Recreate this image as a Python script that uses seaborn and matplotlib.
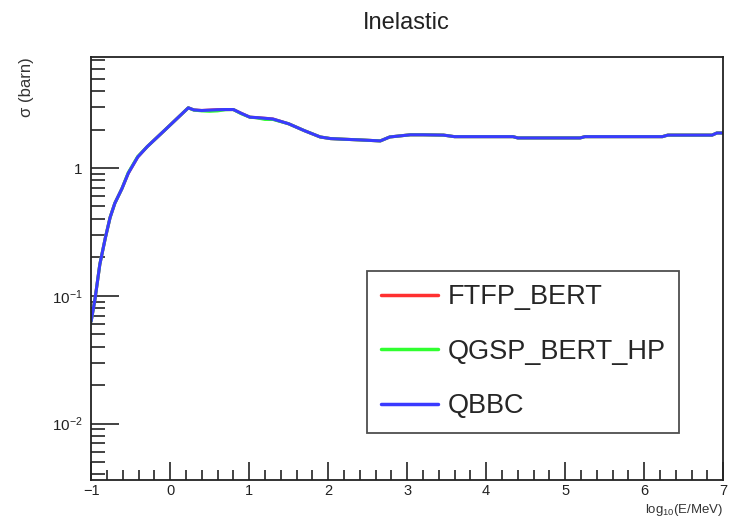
import numpy as np
import pandas as pd
import matplotlib
matplotlib.use("Agg")
import matplotlib.pyplot as plt
import matplotlib.ticker as mticker
import seaborn as sns

# 数据 (log10(E/MeV), 截面 barn)
log_e = [-1.0, -0.95, -0.89, -0.82, -0.76, -0.70, -0.61, -0.53, -0.41, -0.29, -0.06,
         0.23, 0.30, 0.40, 0.50, 0.60, 0.70, 0.80, 0.90, 1.01, 1.10, 1.20, 1.30,
         1.50, 1.70, 1.90, 2.03, 2.20, 2.40, 2.66, 2.78, 3.04, 3.20, 3.46, 3.60,
         4.00, 4.34, 4.40, 4.80, 5.19, 5.25, 5.80, 6.23, 6.30, 6.86, 6.92, 7.0]
sigma_qbbc = [0.063, 0.095, 0.176, 0.284, 0.41, 0.53, 0.69, 0.91, 1.22, 1.47, 2.0,
              2.96, 2.85, 2.82, 2.84, 2.86, 2.87, 2.87, 2.68, 2.5, 2.48, 2.45, 2.42,
              2.22, 1.96, 1.75, 1.70, 1.68, 1.66, 1.63, 1.75, 1.82, 1.82, 1.81, 1.76,
              1.76, 1.76, 1.72, 1.72, 1.72, 1.76, 1.76, 1.76, 1.81, 1.81, 1.88, 1.88]
sigma_ftfp = list(sigma_qbbc)
sigma_qgsp = [0.063, 0.095, 0.176, 0.284, 0.41, 0.53, 0.69, 0.92, 1.23, 1.47, 2.0,
              2.96, 2.84, 2.80, 2.78, 2.80, 2.86, 2.87, 2.66, 2.5, 2.47, 2.40, 2.40,
              2.22, 1.96, 1.75, 1.70, 1.68, 1.66, 1.63, 1.75, 1.82, 1.82, 1.81, 1.76,
              1.76, 1.76, 1.72, 1.72, 1.72, 1.76, 1.76, 1.76, 1.81, 1.81, 1.88, 1.88]

series_names = ["FTFP_BERT", "QGSP_BERT_HP", "QBBC"]
series_colors = ["#ff3030", "#30ff30", "#3a3aff"]
y_ticks = [0.01, 0.1, 1]
y_tick_labels = [r"$10^{-2}$", r"$10^{-1}$", "1"]

df = pd.concat([
    pd.DataFrame({"x": log_e, "y": s, "list": n})
    for n, s in zip(series_names, [sigma_ftfp, sigma_qgsp, sigma_qbbc])
])

sns.set_style("ticks")
plt.rcParams["font.family"] = ["Liberation Sans", "DejaVu Sans"]
plt.rcParams["mathtext.fontset"] = "custom"
plt.rcParams["mathtext.rm"] = "Liberation Sans"
plt.rcParams["mathtext.it"] = "Liberation Sans"

fig = plt.figure(figsize=(7.29, 5.18), dpi=100)
ax = fig.add_axes([0.125, 0.073, 0.867, 0.817])

sns.lineplot(data=df, x="x", y="y", hue="list", hue_order=series_names,
             palette=series_colors, linewidth=2.2, ax=ax, legend=False,
             estimator=None, sort=False)

ax.set_yscale("log")
ax.set_xlim(-1, 7)
ax.set_ylim(0.0036, 7.4)

# 刻度（ROOT 风格：朝内）
ax.xaxis.set_major_locator(mticker.MultipleLocator(1))
ax.xaxis.set_minor_locator(mticker.MultipleLocator(0.2))
ax.yaxis.set_major_locator(mticker.FixedLocator(y_ticks))
ax.yaxis.set_major_formatter(mticker.FixedFormatter(y_tick_labels))
ax.yaxis.set_minor_locator(mticker.LogLocator(base=10, subs=np.arange(2, 10)))
ax.yaxis.set_minor_formatter(mticker.NullFormatter())
ax.tick_params(axis="both", which="both", direction="in", top=False, right=False,
               colors="#222222", width=1.2, labelsize=11)
ax.tick_params(axis="x", which="major", length=13, pad=3, labelsize=10.5)
ax.tick_params(axis="x", which="minor", length=7)
ax.tick_params(axis="y", which="major", length=20, pad=6)
ax.tick_params(axis="y", which="minor", length=10)
for sp in ax.spines.values():
    sp.set_linewidth(1.3)
    sp.set_color("#222222")

ax.set_xlabel("")
ax.set_ylabel("")
fig.text(0.992, 0.0, r"log$_{10}$(E/MeV)", ha="right", va="bottom", fontsize=9.5, color="#333333")
fig.text(0.037, 0.89, "σ (barn)", rotation=90, ha="center", va="top", fontsize=12, color="#333333")
fig.text(0.558, 0.955, "Inelastic", ha="center", va="center", fontsize=17, color="#222222")

handles = [plt.Line2D([], [], color=c, linewidth=2.5) for c in series_colors]
leg = ax.legend(handles, series_names, loc="upper left", bbox_to_anchor=(0.437, 0.495),
                fontsize=19.5, frameon=True, fancybox=False, handlelength=2.1,
                labelspacing=1.05, borderpad=0.5, handletextpad=0.37, borderaxespad=0)
leg.get_frame().set_edgecolor("#222222")
leg.get_frame().set_linewidth(1.3)

fig.savefig("out.png", dpi=100)
